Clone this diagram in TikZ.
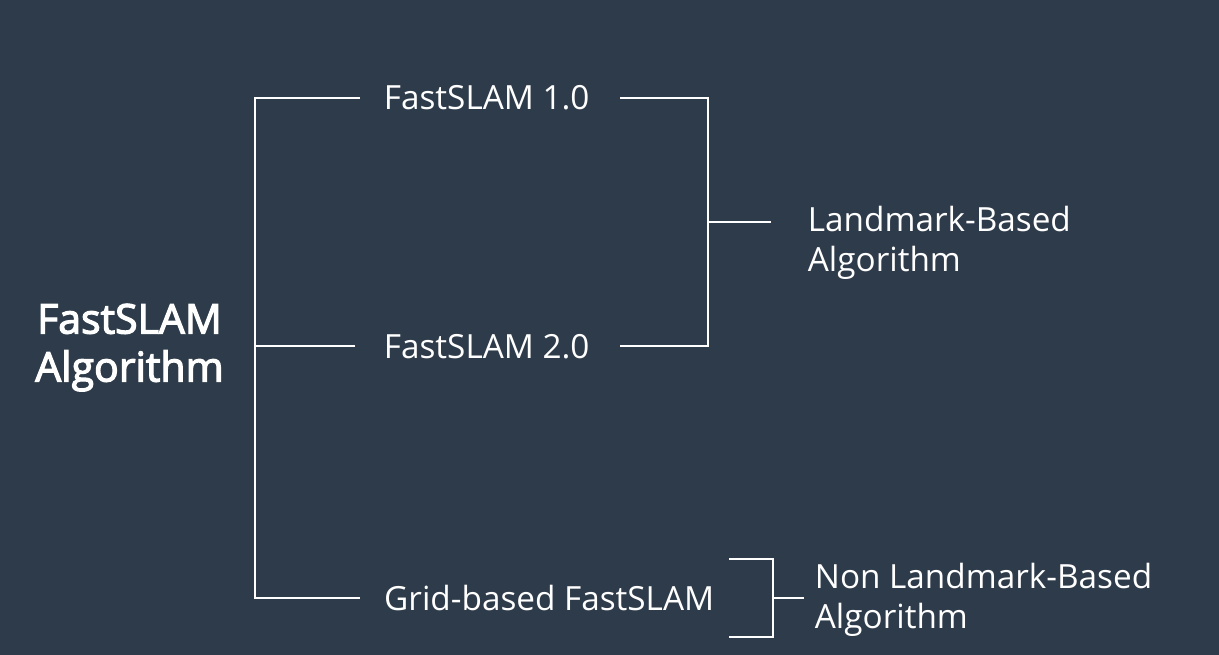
\documentclass[tikz,border=0pt]{standalone}
\usepackage{fontspec}
\setmainfont{Open Sans}
\newfontfamily\ttlfont[FakeBold=3]{Open Sans}
\definecolor{bgslate}{HTML}{2E3B4A}
\tikzset{
  conn/.style={draw=white, line width=2pt},
  lbl/.style={text=white, inner sep=0pt, font=\fontsize{33.3}{40}\selectfont},
  ttl/.style={text=white, inner sep=0pt, align=center, font=\ttlfont\fontsize{41}{48}\selectfont},
}
\begin{document}
\begin{tikzpicture}[x=1pt,y=-1pt]
\fill[bgslate] (0,0) rectangle (1219,655);
\useasboundingbox (0,0) rectangle (1219,655);
% nodes
\node[ttl] (title) at (129.5,347.6) {FastSLAM\\Algorithm};
\node[lbl, anchor=base west] (f1) at (383.7,110) {FastSLAM 1.0};
\node[lbl, anchor=base west] (f2) at (383.7,358) {FastSLAM 2.0};
\node[lbl, anchor=base west] (grid) at (384,610) {Grid-based FastSLAM};
\node[lbl, anchor=west, align=left] (lm) at (807.7,243.2) {Landmark-Based\\Algorithm};
\node[lbl, anchor=west, align=left] (nlm) at (814.7,599.5) {Non Landmark-Based\\Algorithm};
% left bracket
\coordinate (a1) at (360,98);
\coordinate (a2) at (355,346);
\coordinate (a3) at (360,598);
\coordinate (sTop) at (255,98);
\coordinate (sBot) at (255,598);
\draw[conn] (a1) -- (sTop) -- (sBot) -- (a3);
\draw[conn] (a2) -- (a2 -| sTop);
% landmark bracket
\coordinate (b1) at (620,98);
\coordinate (b2) at (620,346);
\coordinate (bk1) at (708,98);
\coordinate (bk2) at (708,346);
\coordinate (b3) at (771,222);
\draw[conn] (b1) -- (bk1) -- (bk2) -- (b2);
\draw[conn] (b3) -- (b3 -| bk1);
% non-landmark bracket
\coordinate (c1) at (729,559);
\coordinate (c2) at (729,637);
\coordinate (ck1) at (773,559);
\coordinate (ck2) at (773,637);
\coordinate (c3) at (804,598);
\draw[conn] (c1) -- (ck1) -- (ck2) -- (c2);
\draw[conn] (c3) -- (c3 -| ck1);
\end{tikzpicture}
\end{document}
